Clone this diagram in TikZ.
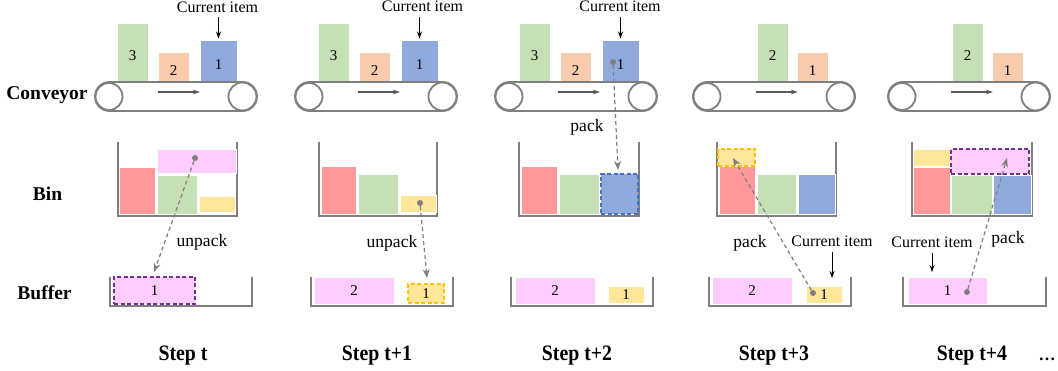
\documentclass[tikz,border=0pt]{standalone}
\usepackage{fontspec}
\setmainfont{Liberation Serif}
\usetikzlibrary{arrows.meta}

\definecolor{itgreen}{HTML}{C5E0B4}
\definecolor{itorange}{HTML}{F8CBAD}
\definecolor{itblue}{HTML}{8FAADC}
\definecolor{itred}{HTML}{FF9999}
\definecolor{itpink}{HTML}{FFCCFF}
\definecolor{ityellow}{HTML}{FFE699}
\definecolor{edgepurple}{HTML}{7030A0}
\definecolor{edgeyellow}{HTML}{FFC000}
\definecolor{edgeblue}{HTML}{4472C4}
\definecolor{framegray}{HTML}{7F7F7F}
\definecolor{darkarrow}{HTML}{595959}

% a block given by its corners: name, x1, y1, x2, y2, style, text
\newcommand\blk[7]{\node[#6, minimum width={#4-#2}, minimum height={#5-#3}] (#1) at ({(#2+#4)/2},{(#3+#5)/2}) {#7};}
% conveyor belt with its two rollers and direction arrow
\newcommand\conveyorbelt[1]{%
  \begin{scope}[xshift=#1]
    \draw[belt, rounded corners=14.5pt] (95,82) rectangle (257,111);
    \draw[belt] (109,96.5) circle[radius=13.5];
    \draw[belt] (242.5,96.5) circle[radius=14];
    \draw[beltarrow] (158,92) -- (200,92);
  \end{scope}}
\newcommand\binwalls[2]{\draw[wall] (#1,142) -- (#1,216) -- (#2,216) -- (#2,142);}
\newcommand\bufferwalls[2]{\draw[wall] (#1,277) -- (#1,306) -- (#2,306) -- (#2,277);}

\tikzset{
  blk/.style={draw=white, line width=0.7pt, inner sep=0pt, outer sep=0pt,
    font=\fontsize{15}{15}\selectfont},
  low/.style={text height=18pt, text depth=0pt},
  dpurple/.style={draw=edgepurple, dash pattern=on 4pt off 2.5pt, line width=1.3pt},
  dyellow/.style={draw=edgeyellow, dash pattern=on 4pt off 2.5pt, line width=1.3pt},
  dblue/.style={draw=edgeblue, dash pattern=on 4pt off 2.5pt, line width=1.3pt},
  wall/.style={draw=framegray, line width=2pt},
  belt/.style={draw=framegray, line width=1.8pt},
  beltarrow/.style={draw=darkarrow, line width=1.1pt, -{Stealth[length=7pt,width=4.5pt]}},
  move/.style={draw=framegray, line width=1.2pt, dash pattern=on 4pt off 3pt,
    -{Stealth[length=9pt,width=7pt]}},
  dot/.style={circle, fill=framegray, minimum size=6pt, inner sep=0pt},
  note/.style={font=\fontsize{16}{16}\selectfont, inner sep=1pt},
  act/.style={font=\fontsize{17.5}{17.5}\selectfont, inner sep=1pt},
  curarrow/.style={draw=black, line width=1pt, -{Stealth[length=7pt,width=5pt]}},
  rowlabel/.style={font=\bfseries\fontsize{19.5}{19.5}\selectfont, inner sep=0pt, anchor=base},
  steplabel/.style={font=\bfseries\fontsize{22}{22}\selectfont, inner sep=0pt, anchor=base},
}

\begin{document}
\begin{tikzpicture}[x=1pt, y=-1pt]
\fill[white] (0,0) rectangle (1058,371);
\useasboundingbox (0,0) rectangle (1058,371);

% row titles
\node[rowlabel] (rconv) at (47,100) {Conveyor};
\node[rowlabel] (rbin) at (47.5,200.7) {Bin};
\node[rowlabel] (rbuf) at (44.5,300) {Buffer};

% ---------------- Step t ----------------
\blk{cg0}{117}{23}{148}{81}{blk,low,fill=itgreen}{3}
\blk{co0}{158}{52}{189}{81}{blk,low,fill=itorange}{2}
\blk{cb0}{200}{40}{237}{81}{blk,low,fill=itblue}{1}
\conveyorbelt{0}
\node[note] (cur0) at (217.5,7.5) {Current item};
\draw[curarrow, shorten >=1.5pt] ([yshift=23pt]cb0.north) -- (cb0.north);

\binwalls{118}{237}
\blk{br0}{119}{167}{155}{214}{blk,fill=itred}{}
\blk{bg0}{157}{175}{197}{214}{blk,fill=itgreen}{}
\blk{bp0}{157}{149}{236}{173}{blk,fill=itpink}{}
\blk{by0}{199}{196}{235}{212}{blk,fill=ityellow}{}

\bufferwalls{110}{252}
\blk{fp0}{114}{277}{195}{304}{blk,dpurple,fill=itpink}{1}

\node[dot] (d0) at (195,158) {};
\coordinate (e0) at (154,272);
\draw[move] (d0) -- (e0);
\node[act] (u0) at (202,242) {unpack};

% ---------------- Step t+1 ----------------
\blk{cg1}{318}{23}{349}{81}{blk,low,fill=itgreen}{3}
\blk{co1}{359}{52}{390}{81}{blk,low,fill=itorange}{2}
\blk{cb1}{401}{40}{438}{81}{blk,low,fill=itblue}{1}
\conveyorbelt{200}
\node[note] (cur1) at (422.5,6.5) {Current item};
\draw[curarrow, shorten >=1.5pt] ([yshift=23pt]cb1.north) -- (cb1.north);

\binwalls{319}{437}
\blk{br1}{321}{166}{356}{214}{blk,fill=itred}{}
\blk{bg1}{358}{174}{398}{214}{blk,fill=itgreen}{}
\blk{by1}{400}{195}{436}{212}{blk,fill=ityellow}{}

\bufferwalls{311}{453}
\blk{fp1}{314}{277}{394}{304}{blk,fill=itpink}{2}
\blk{fy1}{408}{284}{444}{303}{blk,dyellow,fill=ityellow}{1}

\node[dot] (d1) at (420,203) {};
\coordinate (e1) at (427,278);
\draw[move] (d1) -- (e1);
\node[act] (u1) at (392,243) {unpack};

% ---------------- Step t+2 ----------------
\blk{cg2}{519}{23}{550}{81}{blk,low,fill=itgreen}{3}
\blk{co2}{560}{52}{591}{81}{blk,low,fill=itorange}{2}
\blk{cb2}{602}{40}{639}{81}{blk,low,fill=itblue}{1}
\conveyorbelt{400}
\node[note] (cur2) at (620,5.8) {Current item};
\draw[curarrow, shorten >=1.5pt] ([yshift=23pt]cb2.north) -- (cb2.north);

\binwalls{519}{639}
\blk{br2}{521}{166}{557}{214}{blk,fill=itred}{}
\blk{bg2}{559}{174}{599}{214}{blk,fill=itgreen}{}
\blk{bb2}{601}{174}{638}{214}{blk,dblue,fill=itblue}{}

\bufferwalls{511}{653}
\blk{fp2}{515}{277}{595}{304}{blk,fill=itpink}{2}
\blk{fy2}{608}{286}{644}{303}{blk,fill=ityellow}{1}

\node[dot] (d2) at (613,62) {};
\coordinate (e2) at (618,170);
\draw[move] (d2) -- (e2);
\node[act] (p2) at (587,127) {pack};

% ---------------- Step t+3 ----------------
\blk{cg3}{757}{23}{788}{81}{blk,low,fill=itgreen}{2}
\blk{co3}{797}{52}{828}{81}{blk,low,fill=itorange}{1}
\conveyorbelt{598}

\binwalls{717}{836}
\blk{br3}{719}{166}{755}{214}{blk,fill=itred}{}
\blk{by3}{718}{149}{755}{166}{blk,dyellow,fill=ityellow}{}
\blk{bg3}{757}{174}{796}{214}{blk,fill=itgreen}{}
\blk{bb3}{798}{174}{835}{214}{blk,fill=itblue}{}

\bufferwalls{709}{851}
\blk{fp3}{712}{277}{792}{304}{blk,fill=itpink}{2}
\blk{fy3}{806}{286}{842}{303}{blk,fill=ityellow}{1}

\node[note] (cur3) at (832,241) {Current item};
\draw[curarrow, shorten <=4pt, shorten >=8pt] (cur3.south) -- (cur3.south |- fy3.north);

\node[dot] (d3) at (813,293) {};
\coordinate (e3) at (733,158);
\draw[move] (d3) -- (e3);
\node[act] (p3) at (750,243) {pack};

% ---------------- Step t+4 ----------------
\blk{cg4}{952}{23}{983}{81}{blk,low,fill=itgreen}{2}
\blk{co4}{992}{52}{1023}{81}{blk,low,fill=itorange}{1}
\conveyorbelt{793}

\binwalls{912}{1032}
\blk{by4}{913}{149}{950}{166}{blk,fill=ityellow}{}
\blk{br4}{913}{167}{950}{214}{blk,fill=itred}{}
\blk{bg4}{951}{175}{992}{214}{blk,fill=itgreen}{}
\blk{bb4}{993}{175}{1031}{214}{blk,fill=itblue}{}
\blk{bp4}{951}{149}{1029}{174}{blk,dpurple,fill=itpink}{}

\bufferwalls{903}{1046}
\blk{fp4}{908}{277}{987}{304}{blk,fill=itpink}{1}

\node[note] (cur4) at (932,242) {Current item};
\draw[curarrow, shorten <=4pt, shorten >=5pt] (cur4.south) -- (cur4.south |- fp4.north);

\node[dot] (d4) at (967,292) {};
\coordinate (e4) at (1007,158);
\draw[move] (d4) -- (e4);
\node[act] (p4) at (1008,239) {pack};

% ---------------- step captions ----------------
\node[steplabel] (st0) at (183,361) {\scalebox{0.9}[1]{Step t}};
\node[steplabel] (st1) at (377,361) {\scalebox{0.9}[1]{Step t+1}};
\node[steplabel] (st2) at (577,361) {\scalebox{0.9}[1]{Step t+2}};
\node[steplabel] (st3) at (774,361) {\scalebox{0.9}[1]{Step t+3}};
\node[steplabel] (st4) at (972,361) {\scalebox{0.9}[1]{Step t+4}};
\node[steplabel, font=\bfseries\fontsize{17}{17}\selectfont] (more) at (1047,361) {…};
\end{tikzpicture}
\end{document}
